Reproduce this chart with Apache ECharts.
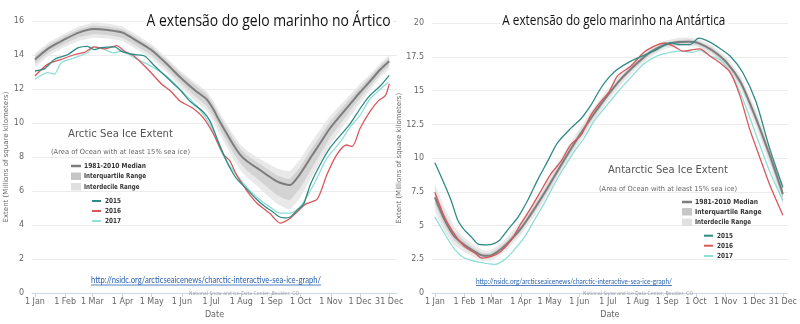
<!DOCTYPE html>
<html>
<head>
<meta charset="utf-8">
<script src="https://cdn.jsdelivr.net/npm/echarts@6/dist/echarts.min.js"></script>
<style>
  html, body { margin: 0; padding: 0; background: #fff; }
  #chart { width: 800px; height: 324px; }
</style>
</head>
<body>
<div id="chart"></div>
<script>
// ---- Axis ticks (day of year) ----
const monthTicks = [0, 31, 59, 90, 120, 151, 181, 212, 243, 273, 304, 334, 364];
const monthLabels = ['1 Jan', '1 Feb', '1 Mar', '1 Apr', '1 May', '1 Jun', '1 Jul',
                     '1 Aug', '1 Sep', '1 Oct', '1 Nov', '1 Dec', '31 Dec'];

// ---- Arctic: climatology (1981-2010), millions of km² ----
const arcticDays   = [0, 15, 30, 45, 60, 75, 90, 105, 120, 135, 150, 165, 176, 183, 190, 197, 204, 211, 218, 228, 238, 248, 257, 262, 272, 283, 293, 303, 314, 324, 334, 345, 355, 364];
const arcticMedian = [13.74, 14.43, 14.9, 15.32, 15.53, 15.47, 15.32, 14.82, 14.28, 13.5, 12.65, 11.9, 11.42, 10.84, 10.07, 9.39, 8.71, 8.13, 7.75, 7.36, 6.97, 6.59, 6.4, 6.36, 6.97, 7.94, 8.81, 9.68, 10.45, 11.13, 11.81, 12.5, 13.16, 13.64];
const arcticP10    = [13.29, 13.98, 14.45, 14.82, 15.03, 14.97, 14.82, 14.32, 13.78, 13.0, 12.1, 11.3, 10.77, 10.14, 9.32, 8.59, 7.86, 7.23, 6.8, 6.31, 5.77, 5.29, 5.0, 4.91, 5.57, 6.69, 7.71, 8.68, 9.6, 10.38, 11.16, 12.0, 12.71, 13.19];
const arcticP25    = [13.49, 14.18, 14.65, 15.04, 15.23, 15.17, 15.02, 14.52, 13.98, 13.2, 12.35, 11.55, 11.04, 10.44, 9.65, 8.94, 8.23, 7.63, 7.2, 6.76, 6.27, 5.79, 5.52, 5.46, 6.12, 7.19, 8.16, 9.13, 9.97, 10.73, 11.46, 12.2, 12.88, 13.39];
const arcticP75    = [13.94, 14.63, 15.1, 15.52, 15.73, 15.67, 15.52, 15.02, 14.48, 13.7, 12.9, 12.2, 11.72, 11.14, 10.39, 9.74, 9.06, 8.48, 8.1, 7.71, 7.32, 6.94, 6.75, 6.71, 7.37, 8.39, 9.23, 10.08, 10.8, 11.45, 12.11, 12.75, 13.38, 13.84];
const arcticP90    = [14.09, 14.78, 15.25, 15.67, 15.91, 15.85, 15.67, 15.17, 14.63, 13.85, 13.05, 12.35, 11.9, 11.34, 10.59, 9.94, 9.29, 8.73, 8.37, 8.01, 7.67, 7.34, 7.2, 7.16, 7.82, 8.79, 9.61, 10.4, 11.07, 11.68, 12.31, 12.9, 13.53, 13.99];

// ---- Arctic: individual years ----
const arctic2015Days = [0, 10, 20, 34, 44, 54, 61, 68, 82, 89, 102, 113, 123, 137, 150, 159, 173, 180, 187, 194, 200, 207, 218, 228, 237, 244, 250, 256, 262, 269, 276, 283, 293, 303, 314, 324, 334, 344, 355, 364];
const arctic2015     = [13.06, 13.2, 13.74, 14.03, 14.42, 14.51, 14.32, 14.43, 14.48, 14.22, 14.03, 13.93, 13.35, 12.6, 11.9, 11.3, 10.65, 10.1, 9.1, 8.13, 7.4, 6.75, 6.1, 5.5, 5.06, 4.8, 4.52, 4.42, 4.46, 4.85, 5.23, 6.39, 7.55, 8.52, 9.29, 9.97, 10.84, 11.61, 12.19, 12.8];
const arctic2016Days = [0, 13, 27, 41, 51, 61, 72, 84, 92, 102, 116, 130, 139, 149, 163, 173, 183, 194, 200, 207, 218, 228, 242, 252, 260, 269, 278, 290, 300, 310, 320, 326, 334, 344, 353, 360, 364];
const arctic2016     = [12.77, 13.45, 13.74, 14.03, 14.16, 14.48, 14.36, 14.55, 14.22, 13.93, 13.16, 12.3, 11.9, 11.3, 10.84, 10.3, 9.4, 8.13, 7.8, 6.97, 6.0, 5.3, 4.65, 4.12, 4.31, 4.75, 5.23, 5.52, 6.97, 8.13, 8.71, 8.62, 9.68, 10.65, 11.32, 11.61, 12.3];
const arctic2017Days = [0, 13, 20, 27, 41, 54, 61, 72, 80, 89, 102, 116, 130, 139, 152, 166, 176, 183, 190, 197, 207, 218, 228, 242, 252, 262, 270, 279, 290, 300, 314, 324, 334, 344, 355, 363];
const arctic2017     = [12.58, 12.97, 12.87, 13.55, 13.84, 14.13, 14.48, 14.32, 14.13, 14.22, 13.84, 13.45, 12.97, 12.58, 11.8, 11.03, 10.26, 9.49, 8.52, 7.75, 6.97, 6.2, 5.64, 5.04, 4.7, 4.7, 4.94, 5.62, 6.78, 7.94, 8.91, 9.78, 10.45, 11.4, 12.0, 12.4];

// ---- Antarctic: climatology (1981-2010) ----
const antDays   = [0, 10, 20, 30, 40, 50, 57, 65, 75, 90, 105, 120, 135, 150, 165, 180, 195, 210, 225, 240, 255, 265, 275, 290, 305, 320, 335, 350, 364];
const antMedian = [7.1, 5.45, 4.25, 3.62, 3.15, 2.78, 2.76, 3.05, 3.63, 4.8, 6.35, 8.05, 9.85, 11.55, 13.15, 14.6, 15.9, 16.95, 17.85, 18.4, 18.62, 18.64, 18.55, 18.0, 17.1, 15.6, 13.1, 10.26, 7.34];
const antP10    = [6.1, 4.55, 3.55, 3.07, 2.7, 2.38, 2.36, 2.65, 3.18, 4.3, 5.8, 7.5, 9.3, 11.05, 12.65, 14.15, 15.5, 16.6, 17.5, 18.1, 18.32, 18.34, 18.25, 17.65, 16.7, 15.1, 12.5, 9.56, 6.54];
const antP25    = [6.6, 5.0, 3.9, 3.34, 2.93, 2.58, 2.56, 2.85, 3.41, 4.55, 6.07, 7.77, 9.57, 11.3, 12.9, 14.38, 15.7, 16.77, 17.67, 18.25, 18.47, 18.49, 18.4, 17.82, 16.9, 15.35, 12.8, 9.91, 6.94];
const antP75    = [7.6, 5.9, 4.6, 3.9, 3.37, 2.98, 2.96, 3.25, 3.85, 5.05, 6.63, 8.33, 10.13, 11.8, 13.4, 14.82, 16.1, 17.13, 18.03, 18.55, 18.77, 18.79, 18.7, 18.18, 17.3, 15.85, 13.4, 10.61, 7.74];
const antP90    = [8.1, 6.35, 4.95, 4.17, 3.6, 3.18, 3.16, 3.45, 4.08, 5.3, 6.9, 8.6, 10.4, 12.05, 13.65, 15.05, 16.3, 17.3, 18.2, 18.7, 18.92, 18.94, 18.85, 18.35, 17.5, 16.1, 13.7, 10.96, 8.14];

// ---- Antarctic: individual years ----
const ant2015Days = [0, 10, 17, 24, 31, 38, 45, 54, 61, 68, 76, 87, 97, 107, 118, 128, 142, 153, 163, 173, 182, 191, 205, 218, 232, 246, 257, 267, 276, 284, 295, 309, 322, 336, 350, 364];
const ant2015     = [9.66, 8.07, 6.86, 5.4, 4.67, 4.18, 3.65, 3.58, 3.65, 3.94, 4.67, 5.64, 6.86, 8.32, 9.78, 11.12, 12.21, 12.94, 13.91, 15.13, 15.99, 16.59, 17.2, 17.61, 18.05, 18.54, 18.42, 18.42, 18.9, 18.73, 18.29, 17.56, 16.35, 14.16, 10.75, 7.83];
const ant2016Days = [0, 10, 21, 31, 42, 49, 59, 69, 80, 90, 101, 111, 121, 132, 142, 153, 163, 173, 182, 191, 205, 218, 229, 241, 250, 260, 270, 277, 288, 298, 309, 319, 329, 340, 350, 364];
const ant2016     = [7.47, 5.64, 4.31, 3.45, 2.96, 2.6, 2.72, 3.09, 3.94, 5.15, 6.37, 7.59, 8.8, 9.78, 10.99, 11.72, 13.18, 14.16, 14.9, 16.1, 16.83, 17.81, 18.29, 18.54, 18.29, 17.93, 18.05, 18.1, 17.56, 17.08, 16.35, 14.64, 12.21, 10.02, 8.07, 5.77];
const ant2017Days = [0, 10, 21, 31, 42, 52, 62, 73, 83, 94, 104, 114, 125, 135, 146, 156, 166, 177, 191, 205, 218, 232, 246, 258, 270, 277, 288, 298, 309, 322, 336, 350, 364];
const ant2017     = [5.64, 4.42, 3.21, 2.6, 2.36, 2.23, 2.12, 2.48, 3.21, 4.18, 5.4, 6.61, 8.07, 9.29, 10.51, 11.48, 12.7, 13.67, 14.89, 15.99, 16.96, 17.56, 17.85, 17.93, 17.85, 18.0, 17.56, 17.32, 16.35, 14.4, 11.72, 9.05, 6.86];

// ---- Styling ----
const C_MEDIAN = '#7d7d7d';
const C_IQR = '#d3d3d3';
const C_IDR = '#e9e9e9';
const C_2015 = '#2e8b84';
const C_2016 = '#d9575b';
const C_2017 = '#8fded7';
const AXIS_FONT = 'DejaVu Sans';

const pairs = (days, vals) => days.map((d, i) => [d, vals[i]]);

// Filled band between a lower and an upper percentile curve
function bandSeries(idx, days, lower, upper, color) {
  return {
    type: 'custom', xAxisIndex: idx, yAxisIndex: idx, silent: true, z: 1,
    data: [[days[0], lower[0]]],
    renderItem: function (params, api) {
      const top = days.map((d, i) => api.coord([d, upper[i]]));
      const bottom = days.map((d, i) => api.coord([d, lower[i]])).reverse();
      return { type: 'polygon', shape: { points: top.concat(bottom) }, style: { fill: color } };
    }
  };
}

function lineSeries(idx, days, vals, color, width, z) {
  return { type: 'line', xAxisIndex: idx, yAxisIndex: idx, data: pairs(days, vals),
           symbol: 'none', smooth: 0.25, silent: true, z: z,
           lineStyle: { color: color, width: width } };
}

function xAxisFor(idx, min, max) {
  return {
    gridIndex: idx, type: 'value', min: min, max: max,
    axisLine: { show: true, lineStyle: { color: '#ccd6eb', width: 1 } },
    axisTick: { show: true, customValues: monthTicks, length: 4, lineStyle: { color: '#ccd6eb' } },
    axisLabel: { customValues: monthTicks, margin: 5, fontSize: 8, color: '#666', fontFamily: AXIS_FONT,
                 formatter: v => monthLabels[monthTicks.indexOf(v)] },
    splitLine: { show: false },
    name: 'Date', nameLocation: 'middle', nameGap: 15,
    nameTextStyle: { fontSize: 8, color: '#666', fontFamily: AXIS_FONT }
  };
}

function yAxisFor(idx, max, interval, gap) {
  return {
    gridIndex: idx, type: 'value', min: 0, max: max, interval: interval,
    axisLine: { show: false }, axisTick: { show: false },
    axisLabel: { fontSize: 8, color: '#666', margin: 8, fontFamily: AXIS_FONT },
    splitLine: { lineStyle: { color: '#ececec', width: 1 } },
    name: 'Extent (Millions of square kilometers)', nameLocation: 'middle', nameGap: gap,
    nameTextStyle: { fontSize: 7, color: '#666', fontFamily: AXIS_FONT }
  };
}

// ---- Text helpers: fit a label into a horizontal span ----
const measureCtx = document.createElement('canvas').getContext('2d');
function textWidth(text, size, family, weight) {
  measureCtx.font = (weight || 'normal') + ' ' + size + 'px "' + family + '"';
  return measureCtx.measureText(text).width;
}
function fitText(text, x1, x2, yc, size, family, color, weight, extra) {
  const w = textWidth(text, size, family, weight);
  return {
    type: 'text', x: x1, y: yc, z: 100, silent: true,
    scaleX: (x2 - x1) / w,
    style: Object.assign({ text: text, fontSize: size, fontFamily: family, fontWeight: weight || 'normal',
                           fill: color, textAlign: 'left', textVerticalAlign: 'middle' }, extra || {})
  };
}
function iconLine(x1, x2, y, color, w) {
  return { type: 'line', z: 100, silent: true, shape: { x1: x1, y1: y, x2: x2, y2: y },
           style: { stroke: color, lineWidth: w } };
}
function iconRect(x, y, w, h, color) {
  return { type: 'rect', z: 100, silent: true, shape: { x: x, y: y, width: w, height: h }, style: { fill: color } };
}

const LINK = 'http://nsidc.org/arcticseaicenews/charctic-interactive-sea-ice-graph/';
const CREDIT = 'National Snow and Ice Data Center, Boulder, CO';
const LEGEND_FONT = 'DejaVu Sans';
const TITLE_FONT = 'Open Sans';

const graphics = [
  // headings
  fitText('A extensão do gelo marinho no Ártico', 144, 388, 21, 16, TITLE_FONT, '#111', 'normal',
          { backgroundColor: '#fff', padding: [2, 3] }),
  fitText('A extensão do gelo marinho na Antártica', 500, 723, 21, 15, TITLE_FONT, '#111', 'normal',
          { backgroundColor: '#fff', padding: [2, 3] }),

  // Arctic legend block
  fitText('Arctic Sea Ice Extent', 68, 173, 134, 11, LEGEND_FONT, '#555'),
  fitText('(Area of Ocean with at least 15% sea ice)', 51, 190, 152, 7, LEGEND_FONT, '#666'),
  iconLine(71, 81, 166, C_MEDIAN, 2.5),
  fitText('1981-2010 Median', 84, 146, 166, 7, LEGEND_FONT, '#333', 'bold'),
  iconRect(71, 172.5, 10, 7.5, '#c6c6c6'),
  fitText('Interquartile Range', 84, 146, 176.5, 7, LEGEND_FONT, '#333', 'bold'),
  iconRect(71, 183, 10, 7.5, '#e0e0e0'),
  fitText('Interdecile Range', 84, 139.5, 187, 7, LEGEND_FONT, '#333', 'bold'),
  iconLine(92, 101, 201, C_2015, 2),
  fitText('2015', 105, 121, 201, 7, LEGEND_FONT, '#333', 'bold'),
  iconLine(92, 101, 211, C_2016, 2),
  fitText('2016', 105, 121, 211, 7, LEGEND_FONT, '#333', 'bold'),
  iconLine(92, 101, 221, C_2017, 2),
  fitText('2017', 105, 121, 221, 7, LEGEND_FONT, '#333', 'bold'),

  // Antarctic legend block
  fitText('Antarctic Sea Ice Extent', 608, 728, 170, 11, LEGEND_FONT, '#555'),
  fitText('(Area of Ocean with at least 15% sea ice)', 599, 737, 189.5, 7, LEGEND_FONT, '#666'),
  iconLine(682, 692, 202, C_MEDIAN, 2.5),
  fitText('1981-2010 Median', 695, 758, 202, 7, LEGEND_FONT, '#333', 'bold'),
  iconRect(682, 208, 10, 7.5, '#c6c6c6'),
  fitText('Interquartile Range', 695, 761.5, 212, 7, LEGEND_FONT, '#333', 'bold'),
  iconRect(682, 218.5, 10, 7.5, '#e0e0e0'),
  fitText('Interdecile Range', 695, 751, 222.5, 7, LEGEND_FONT, '#333', 'bold'),
  iconLine(704, 713, 235.7, C_2015, 2),
  fitText('2015', 717, 733, 235.7, 7, LEGEND_FONT, '#333', 'bold'),
  iconLine(704, 713, 245.7, C_2016, 2),
  fitText('2016', 717, 733, 245.7, 7, LEGEND_FONT, '#333', 'bold'),
  iconLine(704, 713, 256, C_2017, 2),
  fitText('2017', 717, 733, 256, 7, LEGEND_FONT, '#333', 'bold'),

  // source links and credits
  fitText(LINK, 91, 321, 280, 9, 'Lato', '#2a62b0'),
  iconLine(91, 321, 285, '#2a62b0', 0.8),
  fitText(LINK, 476, 672, 281, 8, 'Lato', '#2a62b0'),
  iconLine(476, 672, 285.5, '#2a62b0', 0.8),
  fitText(CREDIT, 189, 299, 293.3, 5, AXIS_FONT, '#999'),
  fitText(CREDIT, 583, 693, 294, 5, AXIS_FONT, '#999')
];

const chart = echarts.init(document.getElementById('chart'), null, { renderer: 'canvas' });
chart.setOption({
  animation: false,
  backgroundColor: '#fff',
  grid: [
    { left: 32, top: 21, width: 365, height: 276 },
    { left: 432, top: 23.3, width: 358, height: 274 }
  ],
  xAxis: [xAxisFor(0, -3, 372), xAxisFor(1, -3, 369)],
  yAxis: [yAxisFor(0, 16, 2, 22), yAxisFor(1, 20, 2.5, 26)],
  series: [
    bandSeries(0, arcticDays, arcticP10, arcticP90, C_IDR),
    bandSeries(0, arcticDays, arcticP25, arcticP75, C_IQR),
    lineSeries(0, arcticDays, arcticMedian, C_MEDIAN, 2, 3),
    lineSeries(0, arctic2017Days, arctic2017, C_2017, 1.3, 4),
    lineSeries(0, arctic2016Days, arctic2016, C_2016, 1.3, 5),
    lineSeries(0, arctic2015Days, arctic2015, C_2015, 1.3, 6),
    bandSeries(1, antDays, antP10, antP90, C_IDR),
    bandSeries(1, antDays, antP25, antP75, C_IQR),
    lineSeries(1, antDays, antMedian, C_MEDIAN, 2, 3),
    lineSeries(1, ant2017Days, ant2017, C_2017, 1.3, 4),
    lineSeries(1, ant2016Days, ant2016, C_2016, 1.3, 5),
    lineSeries(1, ant2015Days, ant2015, C_2015, 1.3, 6)
  ],
  graphic: graphics
});
</script>
</body>
</html>
